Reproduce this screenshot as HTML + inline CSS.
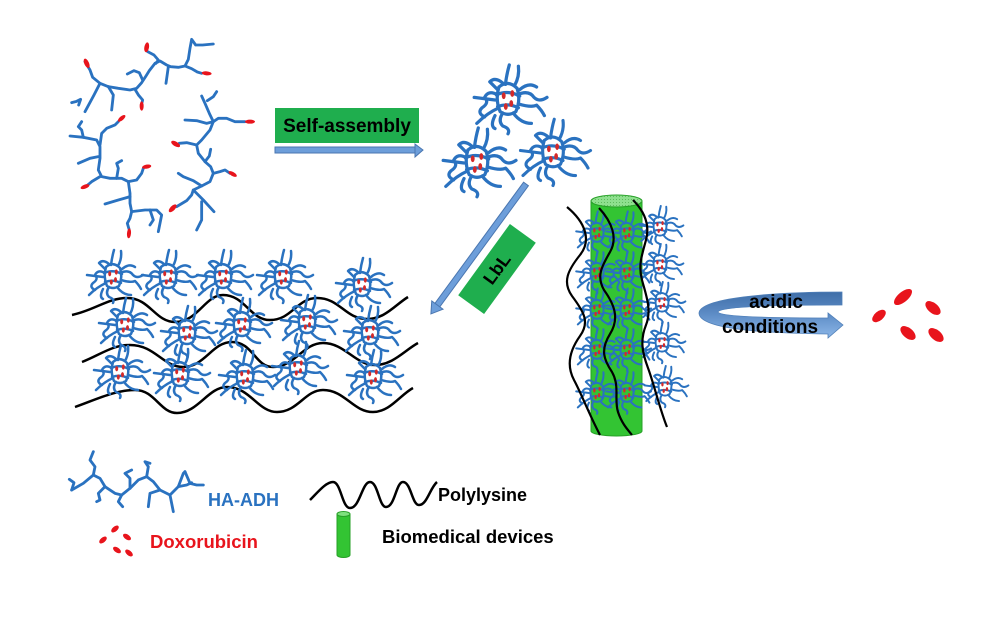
<!DOCTYPE html>
<html>
<head>
<meta charset="utf-8">
<style>
html,body{margin:0;padding:0;background:#fff;}
svg{display:block;}
text{font-family:"Liberation Sans",Arial,sans-serif;font-weight:bold;}
</style>
</head>
<body>
<svg width="998" height="633" viewBox="0 0 998 633" xmlns="http://www.w3.org/2000/svg">
<defs>
  <g id="p" fill="none" stroke="#2a72c0" stroke-width="2.5" stroke-linecap="round" stroke-linejoin="round">
    <path d="M-7,-10 Q0,-16 7,-9 Q10,0 6,9 Q0,13 -6,9 Q-10,0 -7,-10"/>
    <path d="M-9,-4 Q0,-8 9,-3 M-8,5 Q0,2 8,6"/>
    <path d="M-2,-12 Q-1,-20 1,-27"/>
    <path d="M5,-11 Q9,-18 8,-26"/>
    <path d="M-4,-13 Q-10,-18 -14,-14 Q-10,-10 -8,-8"/>
    <path d="M-8,-4 Q-15,-8 -18,-2 Q-14,2 -20,6 Q-24,10 -18,13"/>
    <path d="M-7,6 Q-16,10 -24,18"/>
    <path d="M-10,0 L-26,-2"/>
    <path d="M7,-4 Q16,-8 20,-2 Q24,2 30,-2"/>
    <path d="M8,3 Q18,6 22,4 Q26,8 28,12"/>
    <path d="M9,-8 Q16,-14 22,-10"/>
    <path d="M-4,10 Q-8,16 -4,20 Q2,22 0,26"/>
    <path d="M4,10 Q10,18 18,18"/>
    <path d="M-10,12 Q-14,20 -10,22"/>
    <g fill="#d42a2a" stroke="none">
      <ellipse cx="-3.3" cy="-3.3" rx="1.5" ry="2.6"/>
      <ellipse cx="3.3" cy="-5" rx="1.5" ry="2.6"/>
      <ellipse cx="-1.7" cy="5" rx="1.5" ry="2.6"/>
      <ellipse cx="2.5" cy="2.7" rx="1.5" ry="2.6"/>
    </g>
  </g>
  <linearGradient id="ag" x1="0" y1="0" x2="0" y2="1">
    <stop offset="0" stop-color="#3f6ea8"/>
    <stop offset="0.45" stop-color="#5b8ac4"/>
    <stop offset="1" stop-color="#8db7e8"/>
  </linearGradient>
  <pattern id="dots" width="3" height="3" patternUnits="userSpaceOnUse">
    <rect width="3" height="3" fill="#8ee08e"/>
    <circle cx="1.5" cy="1.5" r="0.5" fill="#4caf4c"/>
  </pattern>
</defs>

<!-- Top-left HA-ADH/DOX chains -->
<g transform="translate(50,30) scale(0.3333)">
  <g fill="none" stroke="#2a72c0" stroke-width="8.5" stroke-linecap="round" stroke-linejoin="round">
    <path d="M105,95 L120,120 L128,142 L150,160 L175,170 L205,175 L240,180 L260,175 L275,158 L288,138 L298,122 L315,100 L330,93 L350,105 L362,110 L385,112 L405,108 L415,88 L420,55 L425,28 L437,45 L458,45 L490,42"/>
    <path d="M405,108 L425,116 L442,126 L455,130"/>
    <path d="M355,110 L352,132 L348,160"/>
    <path d="M232,132 L252,122 L268,128 L278,150"/>
    <path d="M150,160 L132,195 L105,245"/>
    <path d="M175,170 L190,195 L185,240"/>
    <path d="M255,178 L266,196 L278,210 L276,218"/>
    <path d="M293,65 L312,75 L325,90 L318,100"/>
    <path d="M65,218 L80,214 L92,208 L86,225"/>
    <path d="M60,318 L100,322 L140,330 L150,350 L150,385 L145,420 L155,440 L180,445 L215,445 L235,455 L240,490 L240,520 L245,545 L240,565 L232,580 L237,597"/>
    <path d="M150,345 L155,310 L170,295 L195,285 L205,275"/>
    <path d="M100,322 L95,300 L85,290 L95,275"/>
    <path d="M145,380 L120,385 L85,400"/>
    <path d="M150,440 L125,455 L112,466"/>
    <path d="M200,445 L205,415 L200,400 L215,392"/>
    <path d="M235,455 L260,450 L275,430 L280,415"/>
    <path d="M240,500 L205,510 L165,522"/>
    <path d="M245,545 L285,540 L320,540 L335,555 L325,605"/>
    <path d="M300,540 L310,570 L300,585"/>
    <path d="M405,270 L440,272 L470,280 L490,275 L505,265 L530,265 L555,275 L585,275"/>
    <path d="M490,275 L478,250 L465,220 L455,198"/>
    <path d="M472,212 L490,200 L500,185"/>
    <path d="M490,275 L480,300 L455,330 L440,345 L445,370 L465,395 L482,410 L490,430 L480,455 L455,468 L430,480 L425,495 L410,512 L380,530"/>
    <path d="M440,345 L410,338 L388,340"/>
    <path d="M465,395 L478,378 L482,358"/>
    <path d="M490,430 L510,425 L525,420 L540,430"/>
    <path d="M455,468 L430,452 L400,440 L385,430"/>
    <path d="M430,480 L460,510 L492,545"/>
    <path d="M455,515 L455,570 L440,600"/>
  </g>
  <g fill="#e8141c">
    <ellipse cx="290" cy="52" rx="7" ry="15" transform="rotate(10 290 52)"/>
    <ellipse cx="110" cy="100" rx="7" ry="15" transform="rotate(-25 110 100)"/>
    <ellipse cx="470" cy="130" rx="15" ry="6" transform="rotate(5 470 130)"/>
    <ellipse cx="275" cy="228" rx="6" ry="14"/>
    <ellipse cx="215" cy="265" rx="14" ry="6" transform="rotate(-40 215 265)"/>
    <ellipse cx="105" cy="470" rx="14" ry="6" transform="rotate(-20 105 470)"/>
    <ellipse cx="290" cy="410" rx="14" ry="6" transform="rotate(-10 290 410)"/>
    <ellipse cx="237" cy="610" rx="6" ry="15" transform="rotate(5 237 610)"/>
    <ellipse cx="377" cy="342" rx="15" ry="7" transform="rotate(30 377 342)"/>
    <ellipse cx="368" cy="535" rx="15" ry="7" transform="rotate(-45 368 535)"/>
    <ellipse cx="548" cy="432" rx="14" ry="6" transform="rotate(30 548 432)"/>
    <ellipse cx="600" cy="275" rx="15" ry="6"/>
  </g>
</g>

<!-- Self-assembly box and arrow -->
<rect x="275" y="108" width="144" height="35" fill="#1fae4e"/>
<text x="347" y="132" font-size="19" text-anchor="middle" fill="#000">Self-assembly</text>
<rect x="275" y="147" width="141" height="6" fill="#6d9eda" stroke="#4a76b0" stroke-width="1"/>
<polygon points="415,144 423,150 415,157" fill="#6d9eda" stroke="#4a76b0" stroke-width="1"/>

<!-- Top nanoparticles -->
<use href="#p" transform="translate(508,100) scale(1.3)"/>
<use href="#p" transform="translate(477,163) scale(1.3)"/>
<use href="#p" transform="translate(553,153) scale(1.25)"/>

<!-- LbL arrow and box -->
<g transform="translate(526,184) rotate(126.2)">
  <rect x="0" y="-3" width="152" height="6" fill="#6d9eda" stroke="#4a76b0" stroke-width="1"/>
  <polygon points="150,-7 161,0 150,7" fill="#6d9eda" stroke="#4a76b0" stroke-width="1"/>
</g>
<g transform="translate(497,269) rotate(-54)">
  <rect x="-44" y="-16" width="88" height="32" fill="#1fae4e"/>
  <text x="0" y="6" font-size="18" text-anchor="middle" fill="#000">LbL</text>
</g>

<!-- Left lattice -->
<g fill="none" stroke="#000" stroke-width="2.5">
  <path d="M72,315 C95,310 108,298 127,298 C150,298 155,322 175,322 C198,322 205,295 223,295 C245,295 250,320 270,320 C292,320 297,298 317,298 C340,298 345,319 367,319 C385,319 395,305 408,297"/>
  <path d="M82,362 C100,355 112,345 130,345 C155,345 163,367 183,367 C205,367 212,342 232,342 C253,342 255,367 273,367 C295,367 303,343 323,343 C345,343 355,365 375,365 C393,365 405,350 418,343"/>
  <path d="M75,407 C95,400 115,390 135,390 C155,390 160,413 177,413 C198,413 208,387 227,387 C250,387 258,412 277,412 C298,412 305,390 323,390 C345,390 353,412 373,412 C390,412 400,395 413,388"/>
</g>
<use href="#p" transform="translate(113,277)"/>
<use href="#p" transform="translate(168,277)"/>
<use href="#p" transform="translate(223,277)"/>
<use href="#p" transform="translate(283,277)"/>
<use href="#p" transform="translate(362,285)"/>
<use href="#p" transform="translate(125,325)"/>
<use href="#p" transform="translate(187,333)"/>
<use href="#p" transform="translate(242,325)"/>
<use href="#p" transform="translate(307,322)"/>
<use href="#p" transform="translate(370,333)"/>
<use href="#p" transform="translate(120,372)"/>
<use href="#p" transform="translate(180,375)"/>
<use href="#p" transform="translate(245,377)"/>
<use href="#p" transform="translate(298,368)"/>
<use href="#p" transform="translate(373,377)"/>

<!-- Cylinder device -->
<path d="M591,201 L591,431 A25.5,5 0 0 0 642,431 L642,201 Z" fill="#33c433" stroke="#27a027" stroke-width="1"/>
<ellipse cx="616.5" cy="201" rx="25.5" ry="6" fill="url(#dots)" stroke="#27a027" stroke-width="1"/>
<use href="#p" transform="translate(597,233) scale(0.8)"/>
<use href="#p" transform="translate(627,233) scale(0.8)"/>
<use href="#p" transform="translate(660,227) scale(0.78)"/>
<use href="#p" transform="translate(597,273) scale(0.8)"/>
<use href="#p" transform="translate(627,273) scale(0.8)"/>
<use href="#p" transform="translate(660,265) scale(0.78)"/>
<use href="#p" transform="translate(597,310) scale(0.8)"/>
<use href="#p" transform="translate(627,310) scale(0.8)"/>
<use href="#p" transform="translate(662,303) scale(0.78)"/>
<use href="#p" transform="translate(597,350) scale(0.8)"/>
<use href="#p" transform="translate(627,350) scale(0.8)"/>
<use href="#p" transform="translate(662,343) scale(0.78)"/>
<use href="#p" transform="translate(597,393) scale(0.8)"/>
<use href="#p" transform="translate(627,393) scale(0.8)"/>
<use href="#p" transform="translate(665,387) scale(0.78)"/>
<g fill="none" stroke="#000" stroke-width="2.2">
  <path d="M567,207 C585,222 592,240 580,255 C568,270 562,282 572,296 C584,312 590,322 580,336 C570,350 566,365 574,380 C582,395 588,412 600,435"/>
  <path d="M599,208 C612,222 618,238 610,252 C602,266 596,276 604,290 C614,304 620,318 610,334 C600,350 604,360 612,372 C620,386 614,400 618,412 C622,424 628,430 632,435"/>
  <path d="M633,200 C645,212 650,225 646,240 C642,255 638,265 642,280 C646,295 652,310 646,325 C640,340 642,352 648,368 C654,384 660,410 667,427"/>
</g>

<!-- Acidic conditions arrow -->
<path d="M842,292 C770,292 700,298 699,313 C699,326 740,333 828,334 L828,338 L843,325 L828,313 L828,318 C760,318 720,316 718,312 C720,307 770,305 842,305 Z" fill="url(#ag)" stroke="#4f7fb8" stroke-width="0.8"/>
<text x="776" y="308" font-size="19" text-anchor="middle" fill="#000">acidic</text>
<text x="770" y="333" font-size="19" text-anchor="middle" fill="#000">conditions</text>

<!-- Released DOX -->
<g fill="#e8141c">
  <ellipse cx="903" cy="297" rx="11" ry="5" transform="rotate(-40 903 297)"/>
  <ellipse cx="933" cy="308" rx="9" ry="5" transform="rotate(40 933 308)"/>
  <ellipse cx="879" cy="316" rx="8" ry="4.5" transform="rotate(-40 879 316)"/>
  <ellipse cx="908" cy="333" rx="9" ry="5" transform="rotate(40 908 333)"/>
  <ellipse cx="936" cy="335" rx="9" ry="5" transform="rotate(40 936 335)"/>
</g>

<!-- Legend -->
<g transform="translate(50,440) scale(0.3333)" fill="none" stroke="#2a72c0" stroke-width="8.5" stroke-linecap="round" stroke-linejoin="round">
  <path d="M65,150 L100,130 L130,105 L150,115 L165,140 L195,160 L215,165 L240,145 L265,120 L290,110 L310,125 L330,150 L360,165 L385,140 L400,100 L405,95"/>
  <path d="M130,105 L135,80 L120,60 L130,35"/>
  <path d="M165,140 L145,160 L150,180 L140,185"/>
  <path d="M215,165 L205,185 L218,200"/>
  <path d="M240,145 L240,115 L225,100 L245,90"/>
  <path d="M290,110 L295,80 L285,65 L300,70"/>
  <path d="M330,150 L300,160 L295,200"/>
  <path d="M360,165 L370,215"/>
  <path d="M385,140 L410,135 L425,128"/>
  <path d="M405,95 L420,130 L440,135 L460,135"/>
  <path d="M65,150 L72,128 L58,118"/>
</g>
<text x="208" y="506" font-size="18" fill="#2a72c0">HA-ADH</text>

<g fill="#e8141c">
  <ellipse cx="103" cy="540" rx="4.5" ry="2.5" transform="rotate(-40 103 540)"/>
  <ellipse cx="115" cy="529" rx="4.5" ry="2.5" transform="rotate(-40 115 529)"/>
  <ellipse cx="127" cy="537" rx="4.5" ry="2.5" transform="rotate(35 127 537)"/>
  <ellipse cx="117" cy="550" rx="4.5" ry="2.5" transform="rotate(35 117 550)"/>
  <ellipse cx="129" cy="553" rx="4.5" ry="2.5" transform="rotate(40 129 553)"/>
</g>
<text x="150" y="548" font-size="18.5" fill="#e8141c">Doxorubicin</text>

<path d="M310,500 C318,492 326,482 333,482 C341,482 342,508 350,508 C360,508 362,482 370,482 C378,482 379,507 386,507 C395,507 396,482 403,482 C411,482 412,505 419,505 C427,505 430,488 437,482" fill="none" stroke="#000" stroke-width="2.5"/>
<text x="438" y="501" font-size="18" fill="#000">Polylysine</text>

<path d="M337,514 L337,555 A6.5,2.5 0 0 0 350,555 L350,514 Z" fill="#33c433" stroke="#27a027" stroke-width="1"/>
<ellipse cx="343.5" cy="514" rx="6.5" ry="2.5" fill="#7ee07e" stroke="#27a027" stroke-width="1"/>
<text x="382" y="543" font-size="18.5" fill="#000">Biomedical devices</text>
</svg>
</body>
</html>
